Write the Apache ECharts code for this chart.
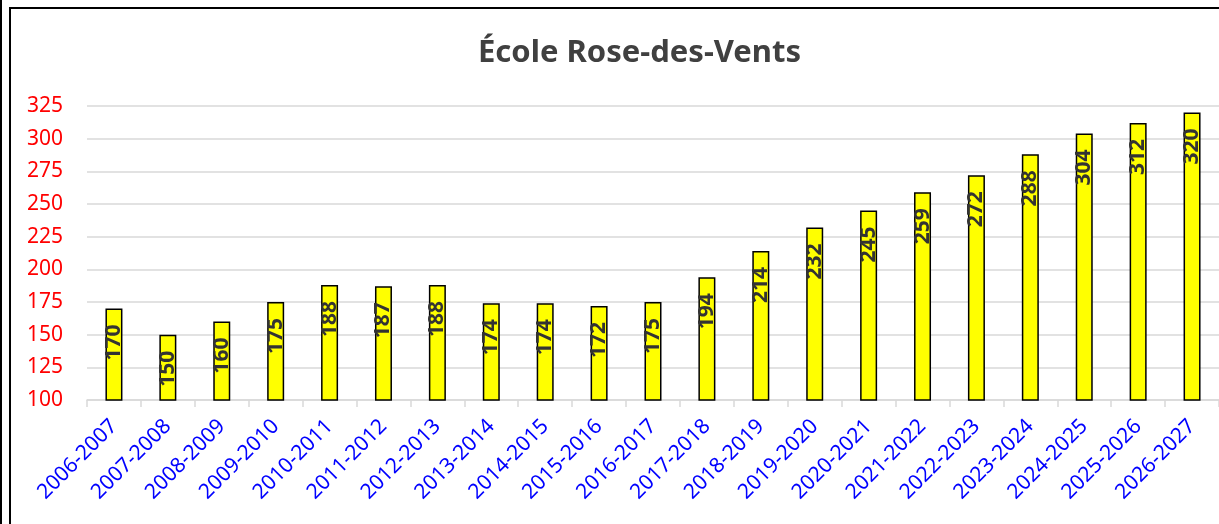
<!DOCTYPE html>
<html>
<head>
<meta charset="utf-8">
<title>École Rose-des-Vents</title>
<script src="https://cdn.jsdelivr.net/npm/echarts@6/dist/echarts.min.js"></script>
<style>
  html, body { margin: 0; padding: 0; background: #fff; }
  #chart { width: 1219px; height: 524px; }
</style>
</head>
<body>
<div id="chart"></div>
<script>
  // années scolaires
  var annees = ['2006-2007', '2007-2008', '2008-2009', '2009-2010', '2010-2011', '2011-2012',
    '2012-2013', '2013-2014', '2014-2015', '2015-2016', '2016-2017', '2017-2018', '2018-2019',
    '2019-2020', '2020-2021', '2021-2022', '2022-2023', '2023-2024', '2024-2025', '2025-2026', '2026-2027']
  // effectifs
  var eleves = [170, 150, 160, 175, 188, 187, 188, 174, 174, 172, 175, 194, 214, 232, 245, 259, 272, 288, 304, 312, 320]
  var titre = 'École Rose-des-Vents'
  var yMin = 100
  var yMax = 325
  var yPas = 25

  var myChart = echarts.init(document.getElementById('chart'))
  myChart.setOption({
    animation: false,
    textStyle: { fontFamily: 'Noto Sans' },
    title: {
      text: titre,
      left: 473,
      top: 33,
      textStyle: { fontSize: 31, fontWeight: 'bold', color: '#404040', fontFamily: 'Noto Sans' }
    },
    graphic: [
      { type: 'line', shape: { x1: 1, y1: 0, x2: 1, y2: 524 }, style: { stroke: '#000', lineWidth: 2 } },
      { type: 'rect', shape: { x: 10, y: 8, width: 1400, height: 700 }, style: { stroke: '#000', lineWidth: 2, fill: 'none' } }
    ],
    grid: {
      left: 87,
      right: -11,
      top: 106,
      bottom: 124
    },
    xAxis: {
      type: 'category',
      data: annees,
      axisLine: { lineStyle: { color: '#d9d9d9', width: 1.5 } },
      axisTick: { show: true, length: 7, lineStyle: { color: '#d9d9d9', width: 1.5 } },
      axisLabel: {
        rotate: 45,
        interval: 0,
        margin: 23,
        color: '#0000ff',
        fontSize: 21
      }
    },
    yAxis: {
      type: 'value',
      min: yMin,
      max: yMax,
      interval: yPas,
      axisLine: { show: false },
      axisTick: { show: false },
      splitLine: { lineStyle: { color: '#d9d9d9', width: 1.5 } },
      axisLabel: {
        color: '#ff0000',
        fontSize: 21,
        margin: 24
      }
    },
    series: [{
      type: 'bar',
      data: eleves,
      barWidth: 17,
      itemStyle: { color: '#ffff00', borderColor: '#000', borderWidth: 1.5 },
      label: {
        show: true,
        position: 'insideTop',
        rotate: 90,
        align: 'right',
        verticalAlign: 'middle',
        distance: 16,
        color: '#333',
        fontSize: 21,
        fontWeight: 'bold'
      }
    }]
  })
</script>
</body>
</html>
